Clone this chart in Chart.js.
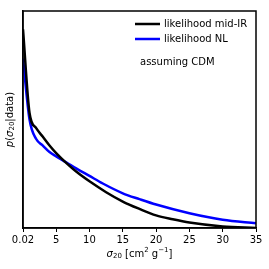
<!DOCTYPE html>
<html>
<head>
  <meta name="viewport" content="width=device-width, initial-scale=1.0">
  <title>sigma20 likelihood</title>
  <script src="https://cdn.jsdelivr.net/npm/chart.js"></script>
  <style>
    body { margin: 0; padding: 0; background: white; }
    #wrap { width: 269px; height: 269px; }
  </style>
</head>
<body>
  <div id="wrap"><canvas id="chart"></canvas></div>
  <script>
    // data (y normalised, 0 = axis, 1 = top of frame)
    const xMidIR = [0.02, 1, 2, 3, 4, 5, 6.5, 8, 10, 12.5, 15, 17.5, 20, 22.5, 25, 30, 35];
    const yMidIR = [0.916, 0.53, 0.46, 0.42, 0.38, 0.345, 0.30, 0.26, 0.215, 0.165, 0.122, 0.088, 0.058, 0.04, 0.025, 0.007, 0.0];
    const xNL = [0.02, 1, 2, 3, 4, 5, 6.5, 8, 10, 12, 15, 17.5, 20, 25, 30, 35];
    const yNL = [0.78, 0.50, 0.41, 0.38, 0.35, 0.33, 0.303, 0.275, 0.24, 0.205, 0.16, 0.133, 0.108, 0.068, 0.038, 0.022];
    const xTicks = [0.02, 5, 10, 15, 20, 25, 30, 35];
    const seriesNames = ['likelihood mid-IR', 'likelihood NL'];
    const note = 'assuming CDM';

    const pts = (xs, ys) => xs.map((x, i) => ({ x: x, y: ys[i] }));
    const font = "'DejaVu Sans', sans-serif";

    // label pieces: normal, italic, sub, sup
    const xTitle = [['σ', 'i'], ['20', 'sub'], [' [cm', ''], ['2', 'sup'], [' g', ''], ['−1', 'sup'], [']', '']];
    const yTitle = [['p', 'i'], ['(', ''], ['σ', 'i'], ['20', 'sub'], ['|data)', '']];

    function richText(c, parts, cx, cy) {
      const fontOf = k => (k === 'i' ? 'italic ' : '') + ((k === 'sub' || k === 'sup') ? '7px ' : '10px ') + font;
      let w = 0;
      parts.forEach(p => { c.font = fontOf(p[1]); w += c.measureText(p[0]).width; });
      let x = cx - w / 2;
      parts.forEach(p => {
        c.font = fontOf(p[1]);
        const dy = p[1] === 'sub' ? 2.5 : p[1] === 'sup' ? -3.5 : 0;
        c.fillText(p[0], x, cy + dy);
        x += c.measureText(p[0]).width;
      });
    }

    // frame, titles and legend box drawn by hand
    const extras = {
      id: 'extras',
      afterDraw(chart) {
        const c = chart.ctx, a = chart.chartArea;
        c.save();
        c.strokeStyle = '#000';
        c.lineWidth = 1.5;
        c.strokeRect(a.left, a.top, a.right - a.left, a.bottom - a.top);
        c.fillStyle = '#000';
        c.textBaseline = 'middle';
        c.textAlign = 'left';
        richText(c, xTitle, (a.left + a.right) / 2, 254);
        c.save();
        c.translate(10, (a.top + a.bottom) / 2);
        c.rotate(-Math.PI / 2);
        richText(c, yTitle, 0, 0);
        c.restore();
        c.font = '10px ' + font;
        const cols = ['#000000', '#0000ff'];
        seriesNames.forEach((n, i) => {
          const y = 24 + i * 15;
          c.strokeStyle = cols[i];
          c.lineWidth = 2.5;
          c.beginPath(); c.moveTo(135, y); c.lineTo(160, y); c.stroke();
          c.fillStyle = '#000';
          c.fillText(n, 164, y);
        });
        c.fillText(note, 140, 62);
        c.restore();
      }
    };

    new Chart(document.getElementById('chart'), {
      type: 'line',
      data: {
        datasets: [
          { label: seriesNames[0], data: pts(xMidIR, yMidIR), borderColor: '#000000', borderWidth: 2.5, pointRadius: 0, cubicInterpolationMode: 'monotone' },
          { label: seriesNames[1], data: pts(xNL, yNL), borderColor: '#0000ff', borderWidth: 2.5, pointRadius: 0, cubicInterpolationMode: 'monotone' }
        ]
      },
      options: {
        responsive: true,
        maintainAspectRatio: false,
        animation: false,
        layout: { padding: { top: 11, right: 13, left: 0, bottom: 0 } },
        plugins: { legend: { display: false }, tooltip: { enabled: false } },
        scales: {
          x: {
            type: 'linear', min: 0.02, max: 35,
            afterBuildTicks: s => { s.ticks = xTicks.map(v => ({ value: v })); },
            afterFit: s => { s.height = 41; },
            ticks: { color: '#000', font: { family: font, size: 10 }, padding: 2, maxRotation: 0,
                     callback: v => v === 0.02 ? '0.02' : String(v) },
            grid: { drawOnChartArea: false, tickLength: 4, color: '#000', tickWidth: 1 },
            border: { color: '#000', width: 1.5 }
          },
          y: {
            min: 0, max: 1,
            afterFit: s => { s.width = 23; },
            ticks: { display: false },
            grid: { display: false },
            border: { color: '#000', width: 1.5 }
          }
        }
      },
      plugins: [extras]
    });
  </script>
</body>
</html>
